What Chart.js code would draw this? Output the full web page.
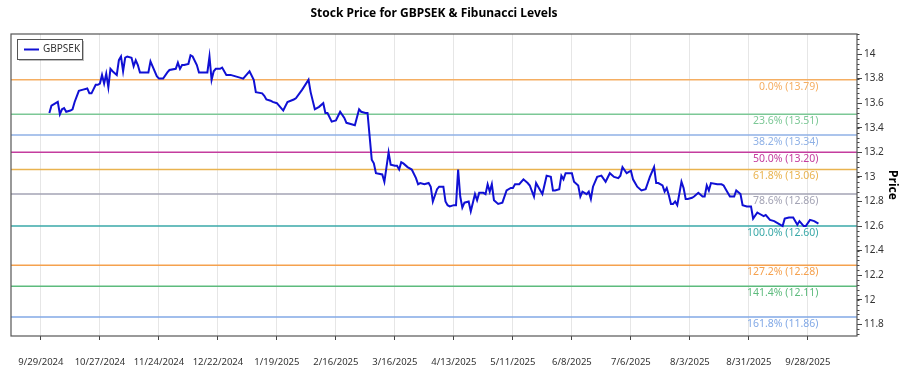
<!DOCTYPE html>
<html>
<head>
<meta charset="utf-8">
<title>GBPSEK Fibonacci</title>
<script src="https://cdn.jsdelivr.net/npm/chart.js@4.4.1/dist/chart.umd.min.js"></script>
<style>
  html, body { margin: 0; padding: 0; background: #fff; }
  #wrap { width: 900px; height: 375px; position: relative; }
</style>
</head>
<body>
<div id="wrap"><canvas id="fibChart"></canvas></div>
<script>
// 日期以 2024-09-29 為第 0 天
const startDate = '9/29/2024';

const dayOffsets = [
  4, 5, 7, 8, 9, 10, 11, 12, 14, 15, 16, 18, 20, 22, 23, 24, 26, 27, 28, 29,
  30, 31, 32, 33, 34, 36, 37, 38, 39, 40, 41, 43, 44, 45, 46, 47, 49, 51, 52, 53,
  55, 56, 58, 60, 61, 64, 65, 66, 67, 68, 70, 71, 72, 74, 75, 77, 79, 80, 81, 82,
  83, 85, 86, 88, 90, 92, 94, 96, 97, 99, 101, 102, 105, 106, 107, 109, 110, 112, 113, 115,
  117, 120, 121, 124, 127, 128, 130, 132, 134, 135, 136, 138, 140, 142, 144, 145, 147, 149, 151, 152,
  154, 155, 157, 158, 159, 162, 163, 165, 166, 168, 169, 170, 171, 172, 174, 176, 178, 179, 180, 182,
  184, 185, 186, 188, 189, 191, 192, 193, 194, 196, 197, 198, 199, 200, 201, 203, 204, 205, 206, 207,
  208, 210, 211, 212, 213, 214, 215, 217, 219, 221, 223, 224, 225, 227, 229, 231, 232, 234, 235, 237,
  238, 240, 242, 243, 244, 246, 247, 248, 249, 252, 253, 255, 256, 257, 259, 260, 261, 262, 264, 266,
  268, 270, 272, 274, 275, 276, 278, 280, 281, 283, 285, 287, 288, 289, 291, 292, 293, 295, 296, 297,
  298, 299, 300, 301, 302, 304, 305, 306, 307, 309, 310, 312, 314, 315, 316, 317, 318, 321, 323, 324,
  325, 327, 329, 330, 332, 333, 335, 337, 338, 340, 341, 343, 344, 346, 348, 350, 352, 353, 355, 357,
  359, 360, 362, 363, 365, 367, 369
];

const prices = [
  13.52, 13.58, 13.60, 13.61, 13.51, 13.55, 13.56, 13.53, 13.54, 13.55, 13.61, 13.70, 13.71, 13.72, 13.68, 13.68, 13.75, 13.75, 13.76, 13.83,
  13.76, 13.84, 13.73, 13.88, 13.86, 13.83, 13.95, 13.98, 13.86, 13.97, 13.98, 13.97, 13.90, 13.95, 13.91, 13.85, 13.85, 13.85, 13.94, 13.90,
  13.82, 13.80, 13.80, 13.85, 13.87, 13.88, 13.93, 13.88, 13.91, 13.91, 13.92, 13.99, 13.98, 13.91, 13.85, 13.85, 13.85, 13.98, 13.79, 13.86,
  13.88, 13.88, 13.89, 13.83, 13.83, 13.82, 13.81, 13.80, 13.82, 13.86, 13.79, 13.69, 13.68, 13.66, 13.63, 13.62, 13.61, 13.60, 13.58, 13.54,
  13.61, 13.63, 13.64, 13.71, 13.79, 13.69, 13.55, 13.57, 13.60, 13.52, 13.52, 13.45, 13.46, 13.53, 13.48, 13.44, 13.43, 13.42, 13.55, 13.53,
  13.52, 13.52, 13.14, 13.11, 13.03, 13.02, 12.96, 13.20, 13.10, 13.09, 13.09, 13.06, 13.12, 13.11, 13.08, 13.06, 12.99, 12.94, 12.95, 12.94,
  12.95, 12.92, 12.80, 12.90, 12.92, 12.92, 12.80, 12.77, 12.76, 12.77, 12.77, 13.06, 12.84, 12.75, 12.79, 12.80, 12.72, 12.79, 12.86, 12.81,
  12.87, 12.87, 12.86, 12.94, 12.88, 12.94, 12.81, 12.78, 12.79, 12.89, 12.91, 12.91, 12.94, 12.94, 12.98, 12.95, 12.93, 12.84, 12.95, 12.89,
  12.86, 13.01, 13.00, 12.89, 12.89, 12.90, 13.01, 12.98, 13.03, 13.03, 12.96, 12.93, 12.84, 12.88, 12.86, 12.88, 12.82, 12.92, 13.00, 13.01,
  12.96, 13.03, 13.00, 12.99, 13.01, 13.08, 13.03, 13.05, 12.98, 12.92, 12.89, 12.90, 12.95, 13.00, 13.08, 12.95, 12.95, 12.93, 12.88, 12.91,
  12.85, 12.78, 12.78, 12.80, 12.77, 12.96, 12.91, 12.82, 12.82, 12.83, 12.84, 12.87, 12.84, 12.84, 12.93, 12.89, 12.95, 12.94, 12.94, 12.93,
  12.90, 12.84, 12.84, 12.89, 12.86, 12.77, 12.76, 12.76, 12.66, 12.71, 12.70, 12.68, 12.69, 12.65, 12.64, 12.62, 12.60, 12.66, 12.67, 12.67,
  12.61, 12.64, 12.60, 12.60, 12.65, 12.64, 12.62
];

const fibLabels = ['0.0%', '23.6%', '38.2%', '50.0%', '61.8%', '78.6%', '100.0%', '127.2%', '141.4%', '161.8%'];
const fibValues = [13.79, 13.51, 13.34, 13.20, 13.06, 12.86, 12.60, 12.28, 12.11, 11.86];
const fibColors = ['#f5ae62', '#7cc896', '#8fb1e6', '#c43c9e', '#e9b34f', '#a3a3b4', '#3aa9a8', '#f5a14e', '#5dbb7d', '#82a9e6'];

const xTickDays = [0, 28, 56, 84, 112, 140, 168, 196, 224, 252, 280, 308, 336, 364];
const xTickLabels = ['9/29/2024', '10/27/2024', '11/24/2024', '12/22/2024', '1/19/2025', '2/16/2025', '3/16/2025',
  '4/13/2025', '5/11/2025', '6/8/2025', '7/6/2025', '8/3/2025', '8/31/2025', '9/28/2025'];
const yTickValues = [11.8, 12, 12.2, 12.4, 12.6, 12.8, 13, 13.2, 13.4, 13.6, 13.8, 14];

const X_MIN = -14.2, X_MAX = 387.3;
const Y_MIN = 11.705, Y_MAX = 14.163;
const FONT = "'Noto Sans', sans-serif";

const priceData = dayOffsets.map((d, i) => ({ x: d, y: prices[i] }));

const fibDatasets = fibValues.map((v, i) => ({
  label: fibLabels[i],
  data: [{ x: X_MIN, y: v }, { x: X_MAX, y: v }],
  borderColor: fibColors[i],
  borderWidth: 1.5,
  pointRadius: 0,
  order: 2
}));

// 標題、圖框、圖例、費波那契標籤、次刻度
const decorPlugin = {
  id: 'decor',
  afterDraw(chart) {
    const { ctx, chartArea: a, scales } = chart;
    const xs = scales.x, ys = scales.y;
    ctx.save();

    // title
    ctx.fillStyle = '#000';
    ctx.font = `bold 12px ${FONT}`;
    ctx.textAlign = 'center';
    ctx.textBaseline = 'middle';
    ctx.fillText('Stock Price for GBPSEK & Fibunacci Levels', (a.left + a.right) / 2, 14);

    // fib labels
    ctx.font = `10.5px ${FONT}`;
    ctx.textAlign = 'right';
    ctx.textBaseline = 'top';
    const lastX = xs.getPixelForValue(dayOffsets[dayOffsets.length - 1]);
    fibValues.forEach((v, i) => {
      ctx.fillStyle = fibColors[i];
      ctx.fillText(`${fibLabels[i]} (${v.toFixed(2)})`, lastX, ys.getPixelForValue(v) + 1.5);
    });

    // minor ticks on y axis
    ctx.strokeStyle = '#444';
    ctx.lineWidth = 1;
    ctx.beginPath();
    for (let k = 0; ; k++) {
      const v = 11.72 + k * 0.04;
      if (v > Y_MAX) break;
      const py = Math.round(ys.getPixelForValue(v)) + 0.5;
      ctx.moveTo(a.right, py);
      ctx.lineTo(a.right + 2.5, py);
    }
    ctx.stroke();

    // frame
    ctx.strokeStyle = '#555';
    ctx.lineWidth = 1.2;
    ctx.strokeRect(a.left, a.top, a.right - a.left, a.bottom - a.top);

    // legend
    const lx = a.left + 6, ly = a.top + 5, lw = 65, lh = 20;
    ctx.fillStyle = 'rgba(0,0,0,0.25)';
    ctx.fillRect(lx + 2, ly + 2, lw, lh);
    ctx.fillStyle = '#fff';
    ctx.fillRect(lx, ly, lw, lh);
    ctx.strokeStyle = '#555';
    ctx.lineWidth = 1;
    ctx.strokeRect(lx + 0.5, ly + 0.5, lw, lh);
    ctx.strokeStyle = '#1010d4';
    ctx.lineWidth = 2;
    ctx.beginPath();
    ctx.moveTo(lx + 7, ly + 10.5);
    ctx.lineTo(lx + 22, ly + 10.5);
    ctx.stroke();
    ctx.fillStyle = '#333';
    ctx.font = `10px ${FONT}`;
    ctx.textAlign = 'left';
    ctx.textBaseline = 'middle';
    ctx.fillText('GBPSEK', lx + 26, ly + 10.5);

    ctx.restore();
  }
};

new Chart(document.getElementById('fibChart'), {
  type: 'line',
  data: {
    datasets: [{
      label: 'GBPSEK',
      data: priceData,
      borderColor: '#1010d4',
      borderWidth: 2,
      pointRadius: 0,
      tension: 0,
      order: 1
    }, ...fibDatasets]
  },
  options: {
    responsive: true,
    maintainAspectRatio: false,
    animation: false,
    layout: { padding: { left: 11, top: 34, right: 0, bottom: 0 } },
    plugins: {
      legend: { display: false },
      title: { display: false },
      tooltip: { enabled: false }
    },
    scales: {
      x: {
        type: 'linear',
        min: X_MIN,
        max: X_MAX,
        afterBuildTicks: s => { s.ticks = xTickDays.map(v => ({ value: v })); },
        afterFit: s => { s.height = 39; },
        grid: { color: '#e6e6e6', tickColor: '#444', tickLength: 4, drawTicks: true },
        border: { display: false },
        ticks: {
          color: '#333',
          font: { family: FONT, size: 9.5 },
          padding: 17,
          maxRotation: 0,
          autoSkip: false,
          callback: v => xTickLabels[xTickDays.indexOf(v)]
        }
      },
      y: {
        position: 'right',
        min: Y_MIN,
        max: Y_MAX,
        afterBuildTicks: s => { s.ticks = yTickValues.map(v => ({ value: v })); },
        afterFit: s => { s.width = 43; },
        grid: { drawOnChartArea: false, tickColor: '#444', tickLength: 5 },
        border: { display: false },
        ticks: {
          color: '#333',
          font: { family: FONT, size: 10 },
          padding: 2,
          callback: v => String(+v.toFixed(1))
        },
        title: {
          display: true,
          text: 'Price',
          color: '#000',
          font: { family: FONT, size: 12, weight: 'bold' },
          padding: 0
        }
      }
    }
  },
  plugins: [decorPlugin]
});
</script>
</body>
</html>
